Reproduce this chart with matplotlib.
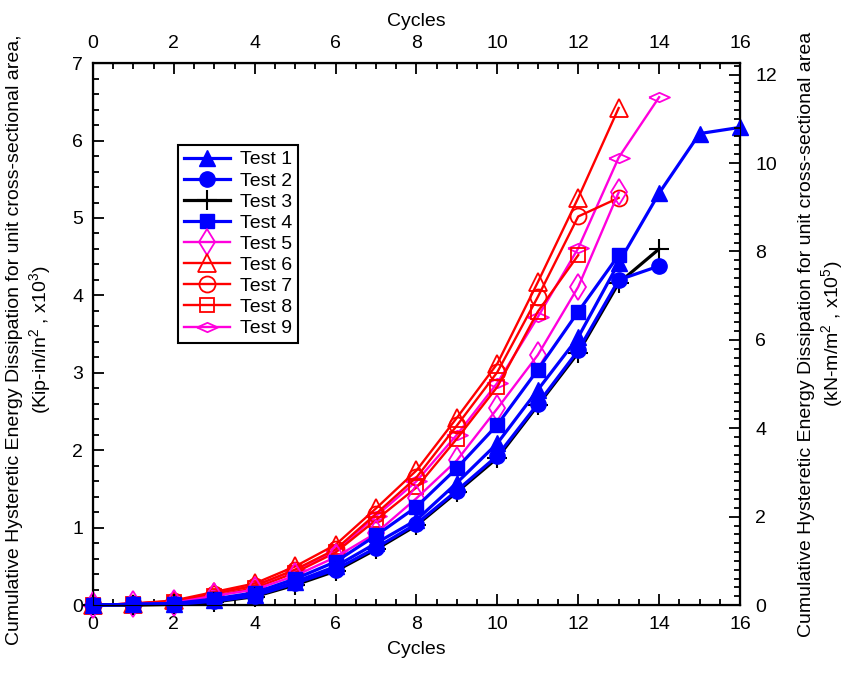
import matplotlib
matplotlib.use("Agg")
import matplotlib.pyplot as plt
from matplotlib.ticker import MultipleLocator

plt.rcParams['font.family'] = ['Liberation Sans', 'DejaVu Sans']
plt.rcParams['mathtext.fontset'] = 'custom'
plt.rcParams['mathtext.rm'] = 'Liberation Sans'

# cumulative energy per test (kip-in/in^2, x10^3), one value per cycle from 0
test1 = [0, 0.01, 0.02, 0.06, 0.13, 0.30, 0.50, 0.80, 1.10, 1.58, 2.09, 2.78, 3.46, 4.42, 5.32, 6.09, 6.17]
test2 = [0, 0.01, 0.01, 0.05, 0.12, 0.28, 0.46, 0.74, 1.05, 1.48, 1.93, 2.60, 3.29, 4.20, 4.38]
test3 = [0, 0.0, 0.01, 0.04, 0.11, 0.26, 0.44, 0.72, 1.03, 1.46, 1.90, 2.58, 3.26, 4.16, 4.60]
test4 = [0, 0.01, 0.02, 0.08, 0.16, 0.34, 0.56, 0.90, 1.27, 1.77, 2.33, 3.04, 3.79, 4.52]
test5 = [0, 0.01, 0.03, 0.12, 0.20, 0.38, 0.62, 0.93, 1.38, 1.87, 2.54, 3.23, 4.11, 5.33]
test6 = [0, 0.02, 0.06, 0.17, 0.28, 0.50, 0.78, 1.25, 1.74, 2.42, 3.12, 4.17, 5.26, 6.42]
test7 = [0, 0.02, 0.05, 0.15, 0.25, 0.46, 0.72, 1.18, 1.65, 2.32, 3.01, 3.98, 5.02, 5.26]
test8 = [0, 0.02, 0.04, 0.12, 0.22, 0.42, 0.68, 1.10, 1.52, 2.15, 2.82, 3.79, 4.52]
test9 = [0, 0.02, 0.05, 0.15, 0.25, 0.45, 0.70, 1.15, 1.60, 2.20, 2.87, 3.72, 4.61, 5.78, 6.56]

names = ["Test 1", "Test 2", "Test 3", "Test 4", "Test 5", "Test 6", "Test 7", "Test 8", "Test 9"]
series = [test1, test2, test3, test4, test5, test6, test7, test8, test9]

# kip-in/in^2 x10^3 -> kN-m/m^2 x10^5
conv = 4.448222 / 0.0254 / 100.0

wide_diamond = [(-1, 0), (0, 0.45), (1, 0), (0, -0.45), (-1, 0)]
styles = [
    dict(color='blue', marker='^', ms=12, mfc='blue', lw=2.3),
    dict(color='blue', marker='o', ms=11, mfc='blue', lw=2.3),
    dict(color='black', marker='+', ms=14, mew=1.5, lw=2.3),
    dict(color='blue', marker='s', ms=10.5, mfc='blue', lw=2.3),
    dict(color='#ff00dd', marker='d', ms=13, mfc='none', mew=1.3, lw=1.7),
    dict(color='red', marker='^', ms=13, mfc='none', mew=1.3, lw=1.7),
    dict(color='red', marker='o', ms=11.5, mfc='none', mew=1.3, lw=1.7),
    dict(color='red', marker='s', ms=10.5, mfc='none', mew=1.3, lw=1.7),
    dict(color='#ff00dd', marker=wide_diamond, ms=15, mfc='none', mew=1.3, lw=1.7),
]

fig = plt.figure(figsize=(8.53, 6.9), dpi=100)
ax = fig.add_axes([0.109, 0.123, 0.7585, 0.7855])

for k, (nm, vals, st) in enumerate(zip(names, series, styles)):
    ax.plot(range(len(vals)), vals, label=nm, zorder=20 - k, clip_on=False, **st)

ax.set_xlim(0, 16)
ax.set_ylim(0, 7)
ax.xaxis.set_major_locator(MultipleLocator(2))
ax.xaxis.set_minor_locator(MultipleLocator(0.5))
ax.yaxis.set_major_locator(MultipleLocator(1))
ax.yaxis.set_minor_locator(MultipleLocator(0.2))
ax.tick_params(which='both', direction='in', top=True, labelsize=14, width=1.3)
ax.tick_params(which='major', length=8, labeltop=True)
ax.tick_params(which='minor', length=4)
ax.tick_params(axis='x', pad=8)
ax.tick_params(axis='y', right=False, pad=7)
for sp in ax.spines.values():
    sp.set_linewidth(1.6)

ax.set_xlabel('Cycles', fontsize=14)
ax.xaxis.set_label_coords(0.5, -0.066)
ax.set_ylabel('Cumulative Hysteretic Energy Dissipation for unit cross-sectional area,\n'
              '(Kip-in/in$^2$ , x10$^3$)', fontsize=14, linespacing=1.25)
ax.yaxis.set_label_coords(-0.06, 0.49)

top = ax.secondary_xaxis('top')
top.set_xticks([])
top.set_xlabel('Cycles', fontsize=14, labelpad=27)

ax2 = ax.twinx()
ax2.set_ylim(0, 7 * conv)
ax2.yaxis.set_major_locator(MultipleLocator(2))
ax2.yaxis.set_minor_locator(MultipleLocator(0.2))
ax2.tick_params(which='both', direction='in', labelsize=14, width=1.3, pad=11)
ax2.tick_params(which='major', length=8)
ax2.tick_params(which='minor', length=4)
ax2.set_ylabel('Cumulative Hysteretic Energy Dissipation for unit cross-sectional area\n'
               '(kN-m/m$^2$ , x10$^5$)', fontsize=14, linespacing=1.2)
ax2.yaxis.set_label_coords(1.09, 0.5)

leg = ax.legend(loc='upper left', bbox_to_anchor=(0.131, 0.849), fontsize=14,
                handlelength=2.4, borderpad=0.3, labelspacing=0.18, handletextpad=0.5,
                borderaxespad=0, fancybox=False, framealpha=1, edgecolor='black')
leg.get_frame().set_linewidth(1.5)
leg.set_zorder(30)

plt.savefig('out.png', dpi=100)
plt.close()
